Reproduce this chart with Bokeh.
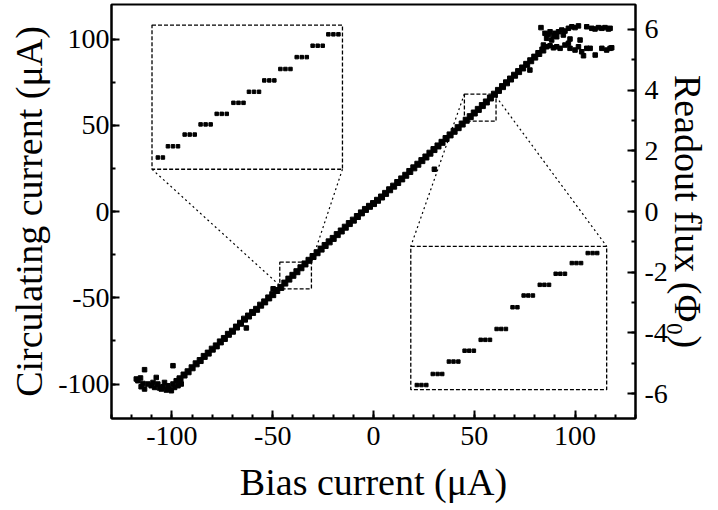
import numpy as np
from bokeh.plotting import figure
from bokeh.models import Range1d, LinearAxis, SingleIntervalTicker, PrintfTickFormatter
from bokeh.embed import file_html
from bokeh.resources import INLINE

# ---- main sweep: bias current (uA) vs circulating current (uA) ----
line_bias = [-96, -94, -92, -90, -88, -86, -84, -82, -80, -78, -76, -74, -72, -70,
             -68, -66, -64, -62, -60, -58, -56, -54, -52, -50, -48, -46, -44, -42,
             -40, -38, -36, -34, -32, -30, -28, -26, -24, -22, -20, -18, -16, -14,
             -12, -10, -8, -6, -4, -2, 0, 2, 4, 6, 8, 10, 12, 14, 16, 18, 20, 22,
             24, 26, 28, 30, 32, 34, 36, 38, 40, 42, 44, 46, 48, 50, 52, 54, 56,
             58, 60, 62, 64, 66, 68, 70, 72, 74, 76, 78, 80, 82, 84]
line_circ = [-97.0, -94.8, -92.9, -90.6, -88.3, -86.4, -84.0, -82.1, -79.8, -77.9,
             -75.6, -73.6, -71.2, -69.4, -67.0, -64.8, -62.4, -60.6, -58.5, -56.7,
             -54.3, -52.4, -50.1, -48.2, -45.8, -44.0, -41.5, -39.2, -37.0, -34.9,
             -32.6, -30.4, -28.3, -26.1, -23.9, -21.8, -19.7, -17.6, -15.6, -13.4,
             -11.3, -9.1, -7.0, -5.0, -2.9, -0.8, 1.2, 3.0, 4.6, 6.5, 8.4, 10.5,
             12.6, 14.7, 16.8, 18.9, 21.0, 23.2, 25.3, 27.4, 29.5, 31.6, 33.8, 35.9,
             38.0, 40.1, 42.3, 44.4, 46.5, 48.6, 50.7, 52.9, 55.0, 57.1, 59.2, 61.4,
             63.5, 65.8, 68.0, 70.2, 72.4, 74.6, 76.8, 79.0, 81.1, 83.2, 85.3, 87.4,
             89.5, 91.6, 93.6]

# saturated region at negative bias
low_bias = [-117.7, -116.9, -115.6, -114.4, -115.3, -113.6, -113.6, -111.9, -110.3,
            -109.4, -108.6, -107.8, -107.0, -106.2, -105.3, -104.5, -103.7, -102.8,
            -102.0, -101.2, -100.3, -99.5, -98.7, -97.9, -97.0, -96.2, -95.4, -99.5]
low_circ = [-97.1, -98.1, -96.5, -99.7, -101.6, -102.9, -91.7, -100.0, -101.0,
            -99.1, -102.0, -96.2, -100.0, -102.3, -102.9, -101.6, -99.1, -103.5,
            -101.0, -102.9, -103.9, -100.0, -102.0, -98.1, -101.0, -97.1, -100.0, -89.4]

# saturated region at positive bias
high_bias = [83.1, 85.1, 86.8, 87.6, 89.3, 90.1, 91.8, 93.4, 95.0, 96.7, 98.4, 100.0,
             101.7, 105.8, 108.3, 109.9, 111.6, 113.3, 114.9, 116.6, 117.4,
             85.9, 88.4, 90.9, 94.2, 97.5, 102.5, 96.7,
             84.3, 85.9, 87.6, 89.3, 90.9, 92.6, 95.0, 97.5, 100.0, 101.7, 103.3,
             104.2, 105.8, 107.5, 110.0, 113.3, 115.7, 117.4, 118.2]
high_circ = [106.6, 103.3, 102.7, 104.2, 101.9, 103.3, 104.2, 105.2, 104.6, 106.2,
             107.1, 106.6, 107.6, 107.1, 106.2, 105.8, 106.6, 106.2, 106.6, 105.8, 106.2,
             100.4, 99.4, 101.3, 102.3, 100.0, 99.4, 97.5,
             96.5, 95.5, 96.1, 94.9, 95.5, 94.6, 96.5, 94.6, 93.6, 95.5, 92.6,
             90.3, 94.6, 94.6, 90.7, 94.6, 93.6, 94.6, 94.9]

# isolated points off the line
stray_bias = [-63.1, -49.8, 30.2, 77.6]
stray_circ = [-67.5, -44.8, 24.5, 82.0]

# ---- inset 1 (magnified view of the box near -40 uA), drawn in main-axis units ----
inset1_x = [-107.0, -104.5,
            -102.0, -99.5, -97.0, -93.7, -91.2, -88.7, -85.8, -83.3, -80.8,
            -77.8, -75.3, -72.8, -69.5, -67.0, -64.5, -61.8, -59.3, -56.8,
            -54.2, -51.7, -49.2, -46.2, -43.7, -41.2, -38.1, -35.6, -33.1,
            -30.2, -27.7, -25.2, -22.4, -19.9, -17.4]
inset1_y = [31.3, 31.3,
            37.8, 37.8, 37.8, 44.6, 44.6, 44.6, 50.5, 50.5, 50.5,
            56.6, 56.6, 56.6, 63.0, 63.0, 63.0, 69.4, 69.4, 69.4,
            76.0, 76.0, 76.0, 82.6, 82.6, 82.6, 89.5, 89.5, 89.5,
            96.1, 96.1, 96.1, 102.7, 102.7, 102.7]

# ---- inset 2 (magnified view of the box near +53 uA) ----
inset2_x = [21.5, 23.8, 26.2, 29.4, 31.8, 34.1, 37.4, 39.7, 42.1, 45.2, 47.5, 49.8,
            53.2, 55.5, 57.8, 61.1, 63.4, 65.7, 69.0, 71.4,
            74.5, 76.8, 79.1, 82.5, 84.8, 87.1, 90.4, 92.7, 95.0,
            98.4, 100.7, 103.0, 106.3, 108.7, 111.0]
inset2_y = [-100.6, -100.6, -100.6, -94.2, -94.2, -94.2, -87.0, -87.0, -87.0,
            -80.7, -80.7, -80.7, -74.4, -74.4, -74.4, -68.1, -68.1, -68.1,
            -55.5, -55.5,
            -48.7, -48.7, -48.7, -42.5, -42.5, -42.5, -36.1, -36.1, -36.1,
            -29.9, -29.9, -29.9, -24.1, -24.1, -24.1]

# frames: [left, right, bottom, top]
box_left = [-109.9, 18.5, -46.5, 45.1]
box_right = [-15.4, 115.7, -30.8, 60.8]
box_bottom = [24.5, -103.3, -44.8, 52.4]
box_top = [108.1, -20.2, -29.4, 68.1]

# connector lines between zoom boxes and insets
conn_x0 = [-109.9, -15.4, 45.1, 60.8]
conn_y0 = [24.5, 24.5, 68.1, 66.6]
conn_x1 = [-46.5, -30.8, 18.5, 115.7]
conn_y1 = [-42.9, -29.4, -20.2, -20.2]

SERIF = "Liberation Serif"

p = figure(frame_width=524, frame_height=414, output_backend="svg", toolbar_location=None,
           x_range=Range1d(-130, 130), y_range=Range1d(-120, 120),
           min_border_left=111, min_border_right=81, min_border_top=4,
           min_border_bottom=91, background_fill_color="white",
           border_fill_color="white")
p.extra_y_ranges = {"flux": Range1d(-6.82, 6.82)}
p.grid.visible = False
p.outline_line_color = "black"
p.outline_line_width = 2

p.xaxis.axis_label = "Bias current (μA)"
p.yaxis.axis_label = "Circulating current (μA)"
right = LinearAxis(y_range_name="flux", axis_label="Readout flux (Φ₀)")
p.add_layout(right, "right")


def style(ax, interval, nminor, standoff, lstandoff):
    ax.ticker = SingleIntervalTicker(interval=interval, num_minor_ticks=nminor)
    ax.formatter = PrintfTickFormatter(format="%d")
    ax.major_tick_in = 8
    ax.major_tick_out = 0
    ax.minor_tick_in = 4
    ax.minor_tick_out = 0
    ax.axis_line_width = 2
    ax.axis_line_color = "black"
    ax.major_tick_line_width = 2
    ax.minor_tick_line_width = 2
    ax.major_tick_line_color = "black"
    ax.minor_tick_line_color = "black"
    ax.major_label_text_font = SERIF
    ax.major_label_text_font_size = "28px"
    ax.major_label_text_color = "black"
    ax.major_label_standoff = standoff
    ax.axis_label_text_font = SERIF
    ax.axis_label_text_font_size = "38px"
    ax.axis_label_text_font_style = "normal"
    ax.axis_label_text_color = "black"
    ax.axis_label_standoff = lstandoff


style(p.xaxis[0], 50, 5, 8, 13)
style(p.yaxis[0], 50, 2, 2, 5)
style(right, 2, 2, 9, -4)

# inset frames and connectors
p.quad(left=box_left, right=box_right, bottom=box_bottom, top=box_top,
       fill_alpha=0, line_color="black", line_width=1.3, line_dash="4 2")
p.segment(x0=conn_x0, y0=conn_y0, x1=conn_x1, y1=conn_y1,
          line_color="black", line_width=1.2, line_dash="2 3")

# data
p.scatter(line_bias, line_circ, marker="square", size=6, color="black")
p.scatter(low_bias, low_circ, marker="square", size=4.5, color="black")
p.scatter(high_bias, high_circ, marker="square", size=4.5, color="black")
p.scatter(stray_bias, stray_circ, marker="square", size=4.5, color="black")
p.scatter(inset1_x, inset1_y, marker="square", size=3.5, color="black")
p.scatter(inset2_x, inset2_y, marker="square", size=3.5, color="black")

open("out.html", "w").write(file_html(p, INLINE))
